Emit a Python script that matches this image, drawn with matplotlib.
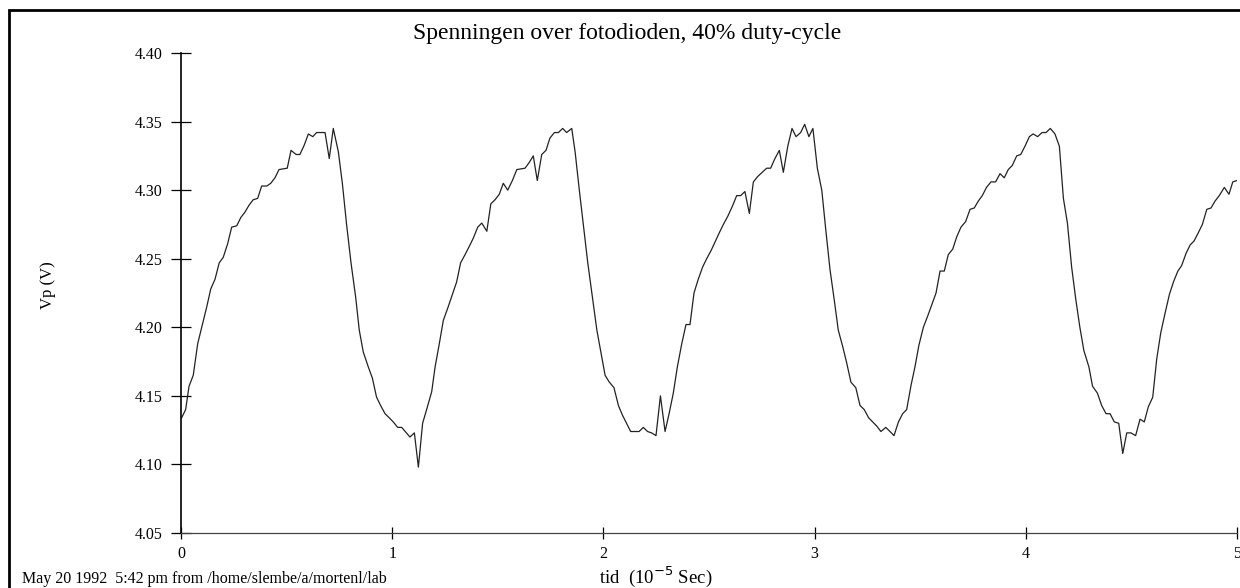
import matplotlib
matplotlib.use('Agg')
from matplotlib import pyplot as plt
from matplotlib.patches import Rectangle

plt.rcParams['font.family'] = ['Liberation Serif', 'DejaVu Serif']

# tid in 10^-5 s, Vp in volt
tid = [0.003, 0.022, 0.038, 0.058, 0.079, 0.098, 0.122, 0.141, 0.161, 0.181,
       0.200, 0.221, 0.240, 0.264, 0.283, 0.303, 0.322, 0.342, 0.363, 0.382,
       0.406, 0.425, 0.445, 0.464, 0.503, 0.521, 0.545, 0.563, 0.584, 0.603,
       0.624, 0.642, 0.682, 0.702, 0.721, 0.745, 0.764, 0.784, 0.805, 0.827,
       0.844, 0.863, 0.887, 0.906, 0.926, 0.945, 0.966, 0.986, 1.005, 1.026,
       1.045, 1.084, 1.105, 1.124, 1.144, 1.163,
       1.187, 1.203, 1.223, 1.242, 1.263, 1.285, 1.305, 1.324, 1.345, 1.365,
       1.384, 1.405, 1.424, 1.448, 1.467, 1.487, 1.507, 1.526, 1.547, 1.569,
       1.590, 1.629, 1.648, 1.668, 1.687, 1.708, 1.728, 1.747, 1.768, 1.787,
       1.807, 1.826, 1.850, 1.866, 1.886, 1.905, 1.926, 1.948, 1.969, 1.989,
       2.008, 2.028, 2.050, 2.071, 2.090, 2.129, 2.169, 2.189, 2.209, 2.228,
       2.249,
       2.270, 2.292, 2.311, 2.331, 2.350, 2.371, 2.391, 2.410, 2.429, 2.449,
       2.470, 2.489, 2.510, 2.528, 2.549, 2.568, 2.589, 2.610, 2.631, 2.650,
       2.670, 2.691, 2.710, 2.731, 2.752, 2.773, 2.792, 2.812, 2.833, 2.852,
       2.873, 2.893, 2.912, 2.934, 2.953, 2.973, 2.992, 3.013, 3.034, 3.053,
       3.073, 3.093, 3.112, 3.133, 3.152, 3.172, 3.195, 3.215, 3.235, 3.256,
       3.275, 3.294, 3.314, 3.337, 3.357, 3.376,
       3.397, 3.417, 3.436, 3.457, 3.475, 3.494, 3.515, 3.535, 3.554, 3.575,
       3.594, 3.614, 3.633, 3.654, 3.673, 3.693, 3.715, 3.736, 3.756, 3.775,
       3.794, 3.814, 3.835, 3.857, 3.878, 3.898, 3.917, 3.936, 3.957, 3.976,
       3.996, 4.017, 4.035, 4.056, 4.077, 4.096, 4.116, 4.138, 4.159, 4.178,
       4.197, 4.217, 4.237, 4.256, 4.275, 4.299, 4.316, 4.339, 4.359, 4.380,
       4.399, 4.419, 4.440, 4.459, 4.478, 4.498, 4.520, 4.541, 4.561, 4.580,
       4.601, 4.620, 4.639, 4.659, 4.680, 4.699, 4.720, 4.738, 4.759, 4.778,
       4.797, 4.817, 4.836, 4.857, 4.877, 4.896, 4.916, 4.940, 4.962, 4.980,
       4.999, 5.015]

vp = [4.134, 4.140, 4.157, 4.165, 4.188, 4.200, 4.215, 4.228, 4.235, 4.247,
      4.251, 4.261, 4.273, 4.274, 4.280, 4.284, 4.289, 4.293, 4.294, 4.303,
      4.303, 4.305, 4.309, 4.315, 4.316, 4.329, 4.326, 4.326, 4.333, 4.341,
      4.339, 4.342, 4.342, 4.323, 4.345, 4.328, 4.305, 4.275, 4.247, 4.222,
      4.198, 4.182, 4.171, 4.163, 4.149, 4.143, 4.137, 4.134, 4.131, 4.127,
      4.127, 4.120, 4.123, 4.098, 4.130, 4.140,
      4.153, 4.171, 4.188, 4.205, 4.214, 4.224, 4.233, 4.247, 4.253, 4.259,
      4.265, 4.273, 4.276, 4.270, 4.290, 4.293, 4.297, 4.305, 4.300, 4.307,
      4.315, 4.316, 4.320, 4.325, 4.307, 4.326, 4.329, 4.338, 4.342, 4.342,
      4.345, 4.342, 4.345, 4.328, 4.300, 4.275, 4.247, 4.222, 4.198, 4.181,
      4.165, 4.160, 4.156, 4.143, 4.136, 4.124, 4.124, 4.127, 4.124, 4.123,
      4.121,
      4.150, 4.124, 4.137, 4.152, 4.171, 4.188, 4.202, 4.202, 4.225, 4.235,
      4.244, 4.250, 4.256, 4.262, 4.269, 4.275, 4.281, 4.288, 4.296, 4.296,
      4.299, 4.283, 4.306, 4.310, 4.313, 4.316, 4.316, 4.323, 4.329, 4.313,
      4.332, 4.345, 4.339, 4.342, 4.348, 4.339, 4.345, 4.316, 4.300, 4.271,
      4.242, 4.220, 4.198, 4.186, 4.174, 4.160, 4.156, 4.143, 4.140, 4.134,
      4.131, 4.128, 4.124, 4.127, 4.124, 4.121,
      4.131, 4.137, 4.140, 4.158, 4.171, 4.187, 4.200, 4.208, 4.216, 4.225,
      4.241, 4.241, 4.253, 4.257, 4.266, 4.273, 4.277, 4.286, 4.287, 4.292,
      4.296, 4.302, 4.306, 4.306, 4.312, 4.309, 4.315, 4.318, 4.325, 4.326,
      4.332, 4.339, 4.341, 4.339, 4.342, 4.342, 4.345, 4.341, 4.332, 4.294,
      4.276, 4.244, 4.220, 4.200, 4.183, 4.171, 4.157, 4.152, 4.143, 4.137,
      4.137, 4.131, 4.130, 4.108, 4.123, 4.123, 4.121, 4.133, 4.131, 4.142,
      4.149, 4.177, 4.196, 4.210, 4.224, 4.233, 4.241, 4.245, 4.254, 4.260,
      4.263, 4.269, 4.275, 4.286, 4.287, 4.292, 4.296, 4.302, 4.297, 4.306,
      4.307, 4.308]

xticks = [0, 1, 2, 3, 4, 5]
yticks = [4.05, 4.10, 4.15, 4.20, 4.25, 4.30, 4.35, 4.40]

fig = plt.figure(figsize=(12.4, 5.88), dpi=100)
ax = fig.add_axes([181/1240, 1 - 533/588, 1056/1240, 480/588])

ax.plot(tid, vp, color='#222222', lw=0.9)
ax.set_xlim(0, 5)
ax.set_ylim(4.05, 4.40)

ax.set_xticks(xticks)
ax.set_xticklabels([str(x) for x in xticks])
ax.set_yticks(yticks)
ax.set_yticklabels(['%.2f' % y for y in yticks])

for s in ['top', 'right']:
    ax.spines[s].set_visible(False)
ax.spines['left'].set_linewidth(1.2)
ax.spines['bottom'].set_linewidth(0.9)
ax.spines['bottom'].set_color('#444444')

ax.tick_params(axis='y', direction='inout', length=14, width=0.9, pad=6,
               labelsize=11.5)
ax.tick_params(axis='x', direction='inout', length=8, width=0.9, pad=5,
               labelsize=11.5)

fig.text(0.506, 1 - 33/588, 'Spenningen over fotodioden, 40% duty-cycle',
         ha='center', va='center', fontsize=17)
fig.text(48/1240, 1 - 285/588, 'Vp (V)', rotation=90,
         ha='center', va='center', fontsize=12)
fig.text(656/1240, 1 - 577/588, r'tid  (10$^{-5}$ Sec)',
         ha='center', va='center', fontsize=13.5)
fig.text(22/1240, 1 - 583/588,
         'May 20 1992  5:42 pm from /home/slembe/a/mortenl/lab',
         ha='left', va='baseline', fontsize=11.5)

# page frame, cut off at the right and bottom
fig.patches.append(Rectangle((9/1240, -0.1), 1.2, 1 - 10/588 + 0.1,
                             transform=fig.transFigure, fill=False,
                             lw=2, ec='black'))

fig.savefig('out.png', dpi=100)
